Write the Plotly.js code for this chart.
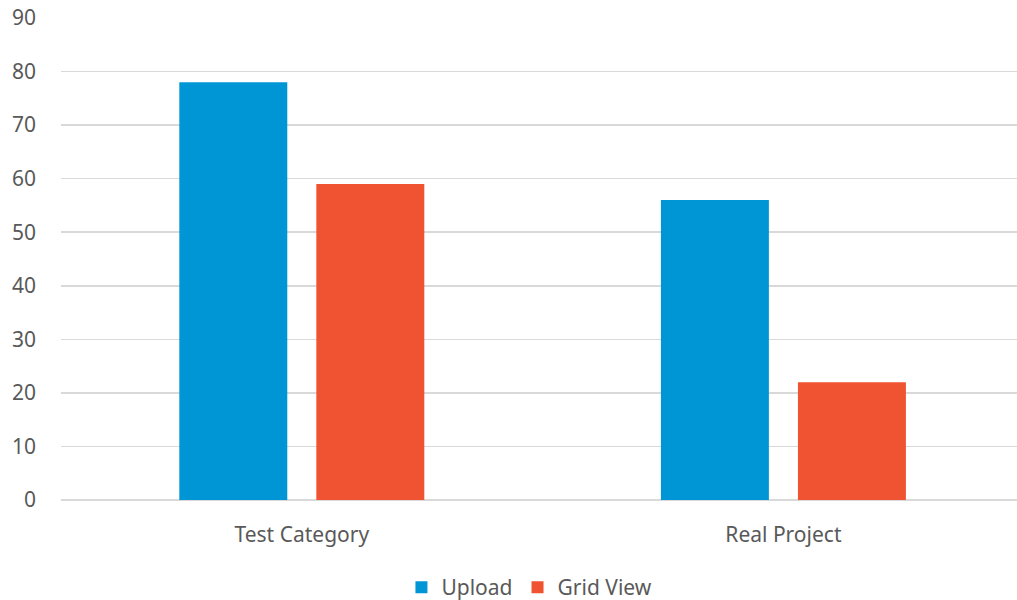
<!DOCTYPE html>
<html><head><meta charset="utf-8">
<script src="https://cdn.plot.ly/plotly-3.0.1.min.js"></script>
<style>html,body{margin:0;padding:0;background:#fff}</style>
</head><body>
<div id="chart" style="width:1017px;height:600px"></div>
<script>
const categories = ["Test Category", "Real Project"];
const uploadValues = [78, 56];
const gridViewValues = [59, 22];
const yTicks = [0, 10, 20, 30, 40, 50, 60, 70, 80, 90];

const data = [
  {type: "bar", name: "Upload", x: categories, y: uploadValues, marker: {color: "#0096D6"}, hoverinfo: "none"},
  {type: "bar", name: "Grid View", x: categories, y: gridViewValues, marker: {color: "#F05332"}, hoverinfo: "none"}
];
const layout = {
  width: 1017, height: 600,
  margin: {l: 61, r: 0, t: 18, b: 100, autoexpand: false},
  paper_bgcolor: "#fff", plot_bgcolor: "#fff",
  font: {family: "Noto Sans, Open Sans, sans-serif", color: "#595959", size: 21},
  barmode: "group", bargap: 0.431, bargroupgap: 0.212,
  xaxis: {type: "category", range: [-0.5, 1.485], showgrid: false, zeroline: false, showline: false, automargin: false,
          ticks: "", tickfont: {size: 21, color: "#595959"}, ticklabelstandoff: 20},
  yaxis: {range: [0, 90], tickvals: yTicks, showgrid: true, gridcolor: "#d9d9d9", gridwidth: 1.5, automargin: false,
          zeroline: true, zerolinecolor: "#d9d9d9", zerolinewidth: 1.5, showline: false, ticks: "",
          tickfont: {size: 21, color: "#595959"}, ticklabelstandoff: 24},
  showlegend: true,
  legend: {orientation: "h", x: 0.49, xanchor: "center", yref: "container", y: 0.055, yanchor: "top",
           font: {size: 21, color: "#595959"}, itemwidth: 30, traceorder: "normal"}
};
Plotly.newPlot("chart", data, layout, {staticPlot: true});
</script>
</body></html>
